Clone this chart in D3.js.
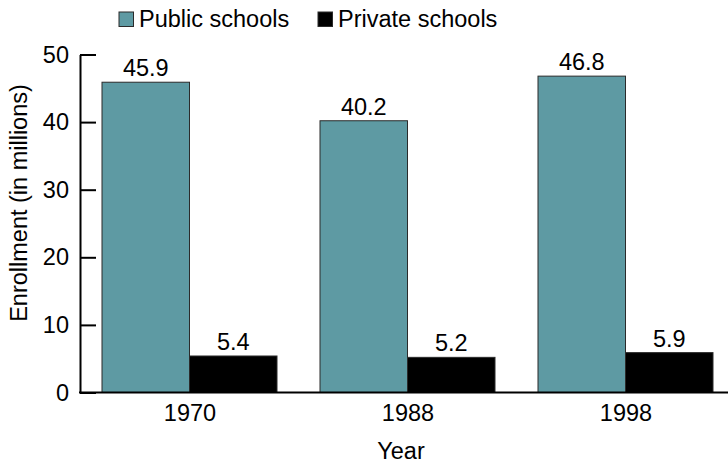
<!DOCTYPE html>
<html><head><meta charset="utf-8">
<script src="https://cdn.jsdelivr.net/npm/d3@7"></script>
<style>body{margin:0;background:#fff}svg{display:block}text{font-family:"Liberation Sans",Arial,sans-serif;fill:#000}</style>
</head><body>
<svg id="c" width="728" height="464"></svg>
<script>
const years = ["1970", "1988", "1998"];
const seriesNames = ["Public schools", "Private schools"];
const publicValues = [45.9, 40.2, 46.8];
const privateValues = [5.4, 5.2, 5.9];
const yTicks = [0, 10, 20, 30, 40, 50];
const colors = ["#5E9AA3", "#000000"];

const svg = d3.select("#c");
const FS = 23.5;
const FF = "Liberation Sans, Arial, sans-serif";
const x0 = d3.scaleBand().domain(years).range([102, 713]).paddingInner(43/218).paddingOuter(0);
const x1 = d3.scaleBand().domain(seriesNames).range([0, x0.bandwidth()]);
const y = d3.scaleLinear().domain([0, 50]).range([392.5, 54.5]);
const color = d3.scaleOrdinal().domain(seriesNames).range(colors);

const data = years.map((yr, i) => ({year: yr, values: [
  {name: seriesNames[0], v: publicValues[i]},
  {name: seriesNames[1], v: privateValues[i]}]}));

// y axis
const yAxis = svg.append("g").attr("transform", "translate(80,0)")
  .call(d3.axisLeft(y).tickValues(yTicks).tickSize(-16).tickSizeOuter(0).tickPadding(11));
yAxis.select(".domain").attr("stroke", "#000").attr("stroke-width", 2);
yAxis.selectAll(".tick line").attr("stroke", "#000").attr("stroke-width", 2);
yAxis.selectAll(".tick text").attr("font-size", FS).attr("font-family", FF).attr("fill", "#000");

// bars
const g = svg.append("g").selectAll("g").data(data).join("g")
  .attr("transform", d => `translate(${x0(d.year)},0)`);
g.selectAll("rect").data(d => d.values).join("rect")
  .attr("x", d => x1(d.name)).attr("width", x1.bandwidth())
  .attr("y", d => y(d.v)).attr("height", d => y(0) - y(d.v))
  .attr("fill", d => color(d.name)).attr("stroke", "#2b2b2b").attr("stroke-width", 1);
g.selectAll("text.val").data(d => d.values).join("text").attr("class", "val")
  .attr("x", d => x1(d.name) + x1.bandwidth()/2).attr("y", d => y(d.v) - 6)
  .attr("text-anchor", "middle").attr("font-size", FS).text(d => d.v.toFixed(1));

// baseline
svg.append("line").attr("x1", 79).attr("x2", 728).attr("y1", y(0)).attr("y2", y(0))
  .attr("stroke", "#000").attr("stroke-width", 2);

// x labels
const xAxis = svg.append("g").attr("transform", `translate(0,${y(0)})`)
  .call(d3.axisBottom(d3.scalePoint().domain(years).range([x0("1970") + x0.bandwidth()/2, x0("1998") + x0.bandwidth()/2])).tickSize(0).tickPadding(12));
xAxis.select(".domain").remove();
xAxis.selectAll("text").attr("font-size", FS).attr("font-family", FF).attr("fill", "#000");

// axis titles
svg.append("text").attr("x", 401).attr("y", 459).attr("text-anchor", "middle").attr("font-size", FS).text("Year");
svg.append("text").attr("transform", "translate(27,203) rotate(-90)").attr("text-anchor", "middle").attr("font-size", FS).text("Enrollment (in millions)");

// legend
const legX = [119, 318];
const leg = svg.append("g").selectAll("g").data(seriesNames).join("g")
  .attr("transform", (d, i) => `translate(${legX[i]},12)`);
leg.append("rect").attr("width", 14.5).attr("height", 14.5).attr("fill", d => color(d)).attr("stroke", "#2b2b2b").attr("stroke-width", 1);
leg.append("text").attr("x", 20).attr("y", 15).attr("font-size", FS).text(d => d);
</script>
</body></html>
